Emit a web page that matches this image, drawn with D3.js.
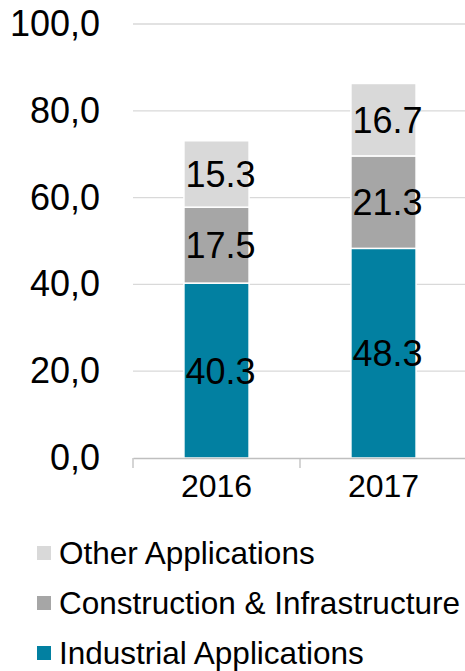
<!DOCTYPE html>
<html>
<head>
<meta charset="utf-8">
<script src="https://cdn.jsdelivr.net/npm/d3@7"></script>
<style>
  body { margin: 0; background: #fff; }
  text { font-family: "Liberation Sans", Arial, sans-serif; fill: #000; }
</style>
</head>
<body>
<svg id="chart" width="465" height="671"></svg>
<script>
let years = ["2016", "2017"]
let series = ["Industrial Applications", "Construction & Infrastructure", "Other Applications"]
let industrial = [40.3, 48.3]
let construction = [17.5, 21.3]
let other = [15.3, 16.7]
let yTicks = [0, 20, 40, 60, 80, 100]

let colors = d3.scaleOrdinal()
    .domain(series)
    .range(["#0280a1", "#a6a6a6", "#d9d9d9"])

let rows = years.map((y, i) => ({
    year: y,
    "Industrial Applications": industrial[i],
    "Construction & Infrastructure": construction[i],
    "Other Applications": other[i]
}))

let stacked = d3.stack().keys(series)(rows)

let svg = d3.select("#chart")

let y = d3.scaleLinear().domain([0, 100]).range([458, 24])
let x = d3.scaleBand().domain(years).range([133, 467])
    .paddingInner(0.61)
    .paddingOuter(0.305)

let fmtAxis = d => d3.format(".1f")(d).replace(".", ",")

// gridlines
svg.append("g")
    .selectAll("line")
    .data(yTicks.filter(d => d > 0))
    .join("line")
    .attr("x1", 133)
    .attr("x2", 465)
    .attr("y1", d => y(d))
    .attr("y2", d => y(d))
    .attr("stroke", "#d9d9d9")
    .attr("stroke-width", 1.3)

// y labels
let axisL = d3.axisLeft(y)
    .tickValues(yTicks)
    .tickFormat(fmtAxis)
    .tickSize(0)
    .tickPadding(0)

svg.append("g")
    .attr("transform", "translate(100,0)")
    .call(axisL)
    .call(g => g.select(".domain").remove())
    .selectAll("text")
    .attr("font-size", 36)
    .attr("font-family", "Liberation Sans, Arial, sans-serif")
    .attr("fill", "#000")

// bars
svg.append("g")
    .selectAll("g")
    .data(stacked)
    .join("g")
    .attr("fill", d => colors(d.key))
    .selectAll("rect")
    .data(d => d)
    .join("rect")
    .attr("x", d => x(d.data.year))
    .attr("width", x.bandwidth())
    .attr("y", d => y(d[1]))
    .attr("height", d => y(d[0]) - y(d[1]))
    .attr("stroke", "#fff")
    .attr("stroke-width", 1.5)

// value labels
svg.append("g")
    .selectAll("g")
    .data(stacked)
    .join("g")
    .selectAll("text")
    .data(d => d.map(v => ({v: v, key: d.key})))
    .join("text")
    .attr("x", d => x(d.v.data.year) + x.bandwidth() / 2 + 4)
    .attr("y", d => y((d.v[0] + d.v[1]) / 2))
    .attr("dy", "0.36em")
    .attr("text-anchor", "middle")
    .attr("font-size", 36)
    .text(d => d3.format(".1f")(d.v[1] - d.v[0]))

// x axis
let axisB = d3.axisBottom(x).tickSize(0).tickPadding(16)
svg.append("g")
    .attr("transform", "translate(0,458)")
    .call(axisB)
    .call(g => g.select(".domain").attr("stroke", "#bfbfbf").attr("stroke-width", 1.3))
    .selectAll("text")
    .attr("font-size", 32)
    .attr("font-family", "Liberation Sans, Arial, sans-serif")
    .attr("fill", "#000")
    .attr("dy", "0.71em")

svg.append("g")
    .selectAll("line")
    .data(d3.range(years.length + 1))
    .join("line")
    .attr("x1", i => x.range()[0] + i * x.step())
    .attr("x2", i => x.range()[0] + i * x.step())
    .attr("y1", 458)
    .attr("y2", 468)
    .attr("stroke", "#bfbfbf")
    .attr("stroke-width", 1.3)

// legend
let legendOrder = series.slice().reverse()
let legend = svg.append("g")
    .selectAll("g")
    .data(legendOrder)
    .join("g")
    .attr("transform", (d, i) => `translate(37,${553 + i * 50})`)

legend.append("rect")
    .attr("x", 0)
    .attr("y", -7)
    .attr("width", 14)
    .attr("height", 14)
    .attr("fill", d => colors(d))

legend.append("text")
    .attr("x", 22)
    .attr("dy", "0.36em")
    .attr("font-size", 31.5)
    .text(d => d)
</script>
</body>
</html>
